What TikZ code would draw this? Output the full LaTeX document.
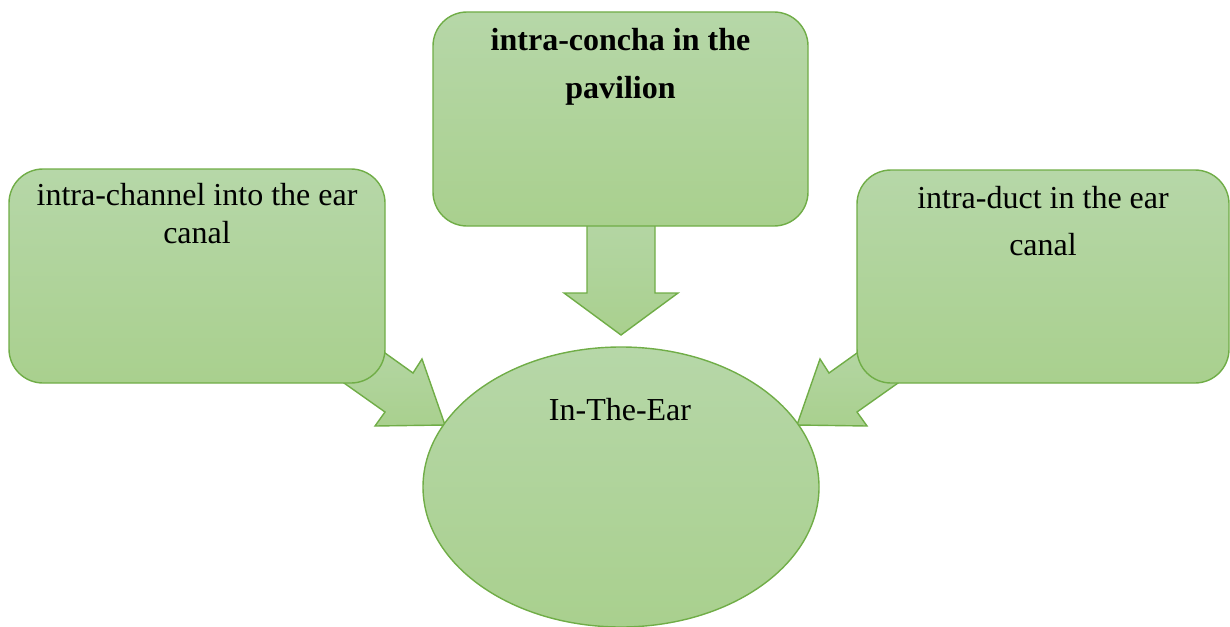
\documentclass[tikz,border=0pt]{standalone}
\usepackage{fontspec}
\setmainfont{Liberation Serif}
\usetikzlibrary{shapes.geometric}
\definecolor{gtop}{HTML}{B6D7A8}
\definecolor{gbot}{HTML}{A9D08E}
\definecolor{gline}{HTML}{70AD47}
\tikzset{
  box/.style={draw=gline, line width=1.4pt, top color=gtop, bottom color=gbot, rounded corners=34pt, inner sep=0pt},
  blockarrow/.style={draw=gline, line width=1.4pt, top color=gtop, bottom color=gbot, line join=miter},
  lbl/.style={anchor=base, inner sep=0pt, font=\fontsize{32}{38}\selectfont},
  blbl/.style={lbl, font=\fontsize{32}{38}\selectfont\bfseries}
}
\begin{document}
\begin{tikzpicture}[x=1pt, y=-1pt]
\useasboundingbox (0,0) rectangle (1230,626);
% block arrows (drawn first, boxes cover their tails)
\path[blockarrow] (587,200) -- (587,293) -- (564,293) -- (621,335) -- (678,293) -- (655,293) -- (655,200) -- cycle;
\path[blockarrow] (352,330) -- (385,353) -- (413,373) -- (422,359) -- (445,425) -- (375,426) -- (385,412) -- (344,383) -- (311,360) -- cycle;
\path[blockarrow] (890,330) -- (857,353) -- (829,373) -- (820,359) -- (797,425) -- (867,426) -- (857,412) -- (898,383) -- (931,360) -- cycle;
% boxes
\node[box, minimum width=375pt, minimum height=214pt] (top) at (620.5,119) {};
\node[box, minimum width=376pt, minimum height=214pt] (left) at (197,276) {};
\node[box, minimum width=372pt, minimum height=213pt] (right) at (1043,276.5) {};
\node[draw=gline, line width=1.4pt, top color=gtop, bottom color=gbot, ellipse, minimum width=396pt, minimum height=280pt, inner sep=0pt] (ear) at (621,487) {};
% texts
\node[blbl] (t1) at (620.5,51) {intra-concha in the};
\node[blbl] (t2) at (620.5,98) {pavilion};
\node[lbl] (l1) at (197,205) {intra-channel into the ear};
\node[lbl] (l2) at (197,243) {canal};
\node[lbl] (r1) at (1043,208) {intra-duct in the ear};
\node[lbl] (r2) at (1043,255) {canal};
\node[lbl] (e1) at (620,420) {In-The-Ear};
\end{tikzpicture}
\end{document}
